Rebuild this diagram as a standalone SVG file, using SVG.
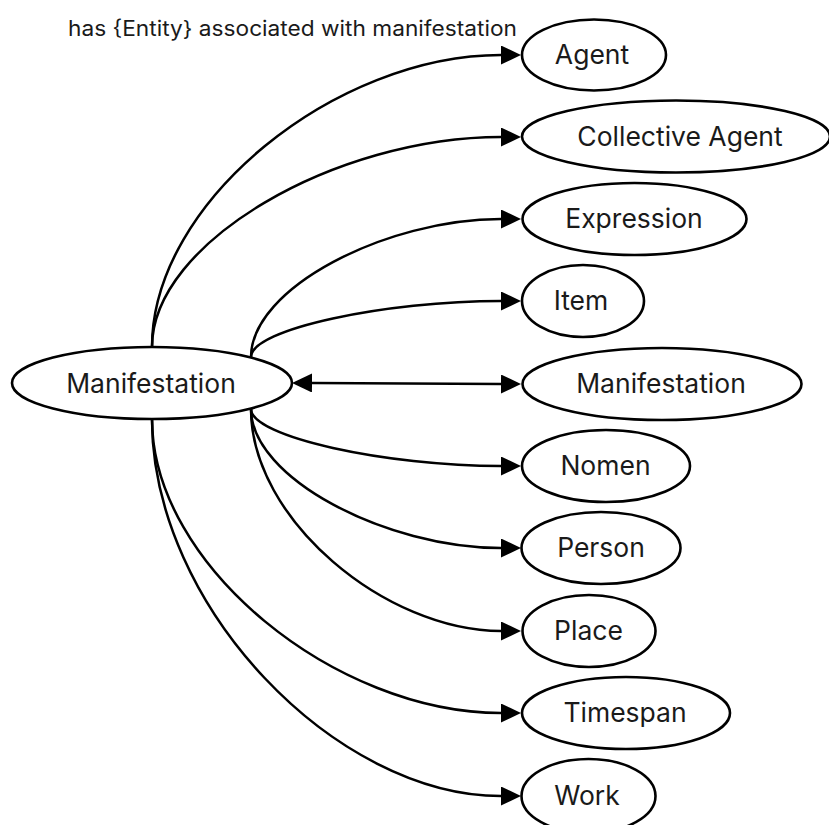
<svg xmlns="http://www.w3.org/2000/svg" width="829" height="825" viewBox="0 0 829 825">
<style>
.node ellipse{fill:#fff;stroke:#000;stroke-width:2.6}
.node text{font-family:Inter,"Liberation Sans",sans-serif;font-size:26.5px;fill:#1a1a1a;text-anchor:middle}
.edges path{fill:none;stroke:#000;stroke-width:2.5}
.title{font-family:Inter,"Liberation Sans",sans-serif;font-size:21px;fill:#1a1a1a}
</style>
<defs>
<marker id="arr" markerUnits="userSpaceOnUse" markerWidth="21" markerHeight="20" refX="0" refY="9.5" orient="auto-start-reverse" viewBox="0 0 21 20">
<path d="M0,0 L20,9.5 L0,19 z" fill="#000"/>
</marker>
</defs>
<rect width="829" height="825" fill="#fff"/>
<text class="title" x="68" y="36" textLength="449" lengthAdjust="spacingAndGlyphs">has {Entity} associated with manifestation</text>
<g class="edges">
<path d="M152,347 C152,201 336,55 501,55" marker-end="url(#arr)"/>
<path d="M152,347 C152,242 336,137 501,137" marker-end="url(#arr)"/>
<path d="M251,357 C251,288 386,219 501,219" marker-end="url(#arr)"/>
<path d="M251,357 C251,329 386,301 501,301" marker-end="url(#arr)"/>
<path d="M312,383 L501,384" marker-start="url(#arr)" marker-end="url(#arr)"/>
<path d="M251,409 C251,437 386,466 501,466" marker-end="url(#arr)"/>
<path d="M251,409 C251,478 386,548 501,548" marker-end="url(#arr)"/>
<path d="M251,409 C251,520 386,631 501,631" marker-end="url(#arr)"/>
<path d="M152,419 C152,566 336,713 501,713" marker-end="url(#arr)"/>
<path d="M152,419 C152,607 336,796 501,796" marker-end="url(#arr)"/>
</g>
<g id="n-src" class="node"><ellipse cx="152" cy="383" rx="140" ry="36"/><text x="151" y="392.5">Manifestation</text></g>
<g id="n-agent" class="node"><ellipse cx="594" cy="55" rx="72" ry="35.5"/><text x="592" y="64">Agent</text></g>
<g id="n-collective" class="node"><ellipse cx="676" cy="136.5" rx="154" ry="36"/><text x="680" y="145.5">Collective Agent</text></g>
<g id="n-expression" class="node"><ellipse cx="634.5" cy="219" rx="112" ry="36"/><text x="634" y="228">Expression</text></g>
<g id="n-item" class="node"><ellipse cx="583" cy="301" rx="61" ry="36"/><text x="581" y="310">Item</text></g>
<g id="n-manif" class="node"><ellipse cx="662" cy="384" rx="139.5" ry="36"/><text x="661" y="393">Manifestation</text></g>
<g id="n-nomen" class="node"><ellipse cx="606" cy="466" rx="84" ry="36"/><text x="605.5" y="475">Nomen</text></g>
<g id="n-person" class="node"><ellipse cx="601" cy="548" rx="79.5" ry="36"/><text x="601" y="557">Person</text></g>
<g id="n-place" class="node"><ellipse cx="589" cy="631" rx="66.5" ry="36"/><text x="588.5" y="640">Place</text></g>
<g id="n-timespan" class="node"><ellipse cx="626" cy="713" rx="104" ry="36"/><text x="625" y="722">Timespan</text></g>
<g id="n-work" class="node"><ellipse cx="588.5" cy="796" rx="67" ry="37"/><text x="587" y="805">Work</text></g>
</svg>
